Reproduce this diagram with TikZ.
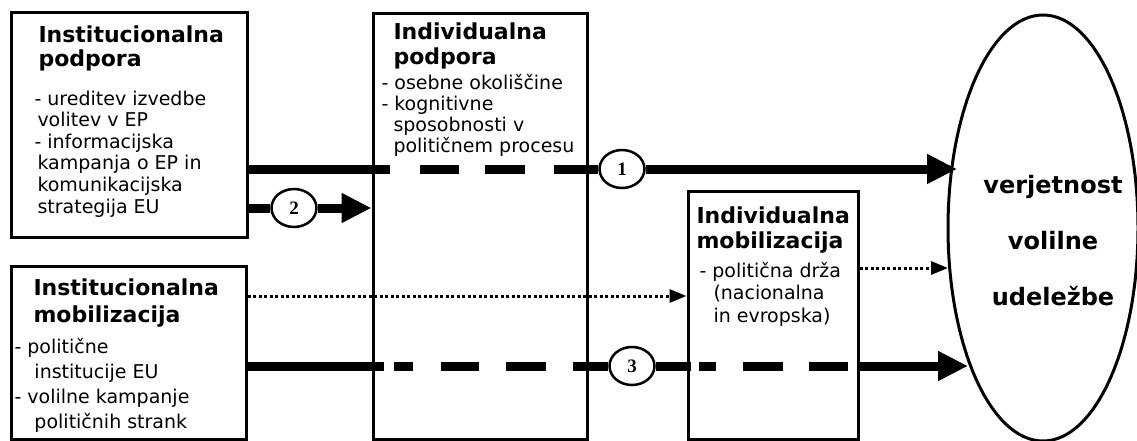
\documentclass[tikz,border=0pt]{standalone}
\usepackage{fontspec}
\setmainfont{DejaVu Sans}
\newfontfamily\numfont{Liberation Serif}
\usetikzlibrary{arrows.meta,shapes.geometric}

\tikzset{every picture/.style={line width=3pt}}
\tikzset{
	okvir/.style={draw, rectangle, inner sep=0pt},
	naslov/.style={anchor=base west, inner sep=0pt, align=left, font=\bfseries\fontsize{22}{#1}\selectfont},
	seznam/.style={anchor=base west, inner sep=0pt, align=left, font=\fontsize{19}{#1}\selectfont},
	krog/.style={draw, ellipse, line width=2.5pt, fill=white, minimum width=45pt, minimum height=38pt, inner sep=0pt, font=\numfont\bfseries\fontsize{19}{19}\selectfont},
	debela/.style={line width=9pt},
	puscica/.style={line width=9pt, -{Triangle[length=30pt,width=28pt]}},
	pikcasta/.style={line width=3pt, dash pattern=on 3pt off 2.5pt, -{Triangle[length=17pt,width=13pt]}},
}

\begin{document}
\begin{tikzpicture}[x=1pt,y=1pt,yscale=-1,xscale=1]
	\path[use as bounding box] (0,0) rectangle (1137,441);
	
	%Shape: Rectangle [id:ipod]
	\node[okvir, minimum width=236, minimum height=224] (ipod) at (129,125) {};
	%Shape: Rectangle [id:imob]
	\node[okvir, minimum width=235, minimum height=173] (imob) at (128.5,352.5) {};
	%Shape: Rectangle [id:indpod]
	\node[okvir, minimum width=214, minimum height=425] (indpod) at (480,226.5) {};
	%Shape: Rectangle [id:indmob]
	\node[okvir, minimum width=170, minimum height=248] (indmob) at (773,315) {};
	%Shape: Ellipse [id:udel]
	\node[draw, ellipse, inner sep=0pt, minimum width=190, minimum height=426] (udel) at (1043,228) {};
	
	%Circles
	\node[krog] (k1) at (622,169) {1};
	\node[krog] (k2) at (294,208) {2};
	\node[krog] (k3) at (632,366) {3};
	
	%Arrow tips on the ellipse
	\coordinate (t1) at (957,169);
	\coordinate (t2) at (948,268);
	\coordinate (t3) at (968,366);
	
	%Straight Lines [id:pot1]
	\draw[debela, dash pattern={on 141pt off 30pt on 39pt off 26pt on 40pt off 29pt on 300pt}] (ipod.east |- k1) -- (k1);
	\draw[puscica] (k1) -- (t1);
	%Straight Lines [id:pot2]
	\draw[debela] (ipod.east |- k2) -- (k2);
	\draw[puscica] (k2) -- (indpod.west |- k2);
	%Straight Lines [id:pot3]
	\draw[debela, dash pattern={on 136pt off 10pt on 19pt off 28pt on 38pt off 27pt on 40pt off 27pt on 300pt}] (imob.east |- k3) -- (k3);
	\draw[puscica, dash pattern={on 35pt off 8pt on 17pt off 27pt on 40pt off 26pt on 39pt off 10pt on 300pt}] (k3) -- (t3);
	%Dotted Lines
	\draw[pikcasta] (imob.east |- 0,296) -- (indmob.west |- 0,296);
	\draw[pikcasta] (indmob.east |- t2) -- (t2);
	
	% Text Node (anchored at the baseline of the last line)
	\node[naslov=24] (ipodN) at (37,67) {Institucionalna\\podpora};
	% Text Node
	\node[seznam=21.6] (ipodS) at (33,213) {- ureditev izvedbe\\\hspace*{3pt}volitev v EP\\- informacijska\\\hspace*{3pt}kampanja o EP in\\\hspace*{3pt}komunikacijska\\\hspace*{3pt}strategija EU};
	% Text Node
	\node[naslov=27] (imobN) at (32,322) {Institucionalna\\mobilizacija};
	% Text Node
	\node[seznam=25] (imobS) at (13,428) {- politične\\\hspace*{20pt}institucije EU\\- volilne kampanje\\\hspace*{20pt}političnih strank};
	% Text Node
	\node[naslov=25] (indpodN) at (392,65) {Individualna\\podpora};
	% Text Node
	\node[seznam=21.3] (indpodS) at (380,153) {- osebne okoliščine\\- kognitivne\\\hspace*{12pt}sposobnosti v\\\hspace*{12pt}političnem procesu};
	% Text Node
	\node[naslov=25] (indmobN) at (695,248) {Individualna\\mobilizacija};
	% Text Node
	\node[seznam=22.5] (indmobS) at (698,322) {- politična drža\\\hspace*{14pt}(nacionalna\\\hspace*{14pt}in evropska)};
	% Text Node
	\node[anchor=base, inner sep=0pt, align=center, font=\bfseries\fontsize{24}{56}\selectfont] (udelT) at (1053,305) {verjetnost\\volilne\\udeležbe};
	
\end{tikzpicture}
\end{document}
